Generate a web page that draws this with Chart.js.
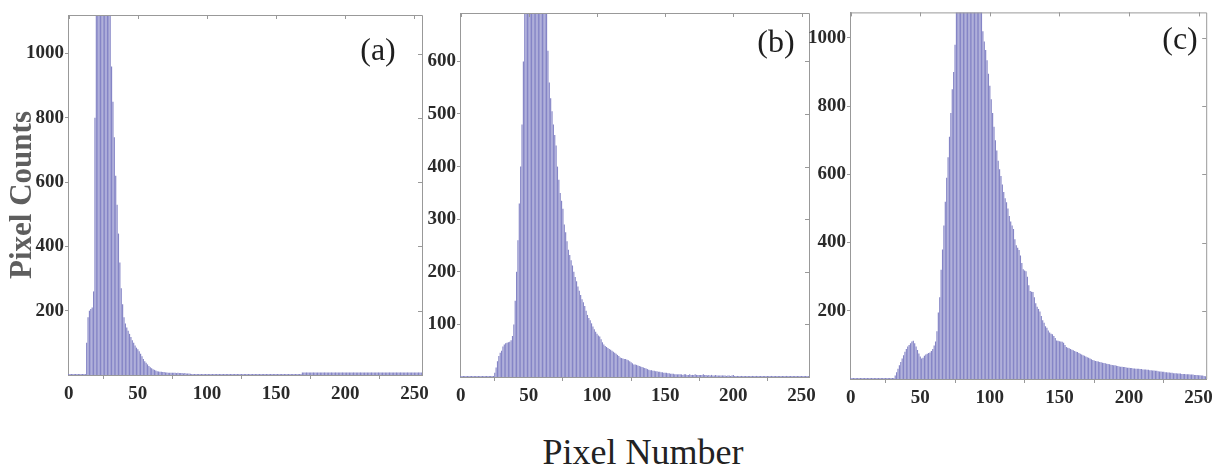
<!DOCTYPE html>
<html>
<head>
<meta charset="utf-8">
<script src="https://cdn.jsdelivr.net/npm/chart.js@4"></script>
<style>
  body { margin: 0; background: #fff; width: 1217px; height: 467px; overflow: hidden; position: relative; font-family: "Liberation Serif", "Times New Roman", serif; }
  canvas { position: absolute; top: 0; }
  .tag { position: absolute; font-size: 32px; color: #1e1e1e; transform: translate(-50%, -50%); white-space: nowrap; }
  #xlabel { position: absolute; left: 643px; top: 452px; font-size: 36px; color: #222; transform: translate(-50%, -50%); white-space: nowrap; }
</style>
</head>
<body>
<canvas id="histA" width="434" height="420" style="left:0px"></canvas>
<canvas id="histB" width="416" height="420" style="left:405px"></canvas>
<canvas id="histC" width="417" height="420" style="left:800px"></canvas>
<div class="tag" style="left:378px; top:49px">(a)</div>
<div class="tag" style="left:776px; top:41px">(b)</div>
<div class="tag" style="left:1180px; top:38px">(c)</div>
<div id="xlabel">Pixel Number</div>
<script>
// gray levels 0..255, one bin each
const pixelLevels = Array.from({ length: 256 }, (_, i) => i);

// histogram counts, 16 bins per row
const countsA = [
  0, 0, 0, 0, 0, 0, 0, 0, 0, 0, 0, 0, 0, 100, 180, 200,
  205, 210, 260, 800, 1200, 1300, 1450, 1600, 1750, 1800, 1720, 1580, 1450, 1330, 1200, 960,
  850, 740, 620, 530, 440, 350, 270, 220, 180, 160, 148, 138, 128, 118, 108, 100,
  92, 85, 80, 74, 66, 58, 50, 43, 38, 33, 28, 24, 21, 18, 16, 14,
  12, 11, 10, 10, 9, 9, 8, 8, 7, 7, 7, 7, 7, 7, 6, 7,
  6, 6, 6, 5, 6, 5, 5, 5, 4, 3, 0, 2, 0, 0, 3, 0,
  2, 0, 0, 3, 0, 2, 0, 0, 3, 0, 0, 2, 0, 3, 0, 0,
  2, 0, 3, 0, 0, 2, 0, 0, 3, 0, 2, 0, 0, 3, 0, 0,
  2, 0, 3, 0, 0, 2, 0, 3, 0, 0, 2, 0, 0, 3, 0, 2,
  0, 0, 3, 0, 2, 0, 0, 3, 0, 0, 2, 0, 3, 0, 0, 2,
  0, 3, 0, 0, 2, 0, 3, 0, 0, 8, 8, 8, 8, 8, 8, 8,
  8, 8, 8, 8, 8, 8, 8, 8, 8, 8, 8, 8, 8, 8, 8, 8,
  8, 8, 8, 8, 8, 8, 8, 8, 8, 8, 8, 8, 8, 8, 8, 8,
  8, 8, 8, 8, 8, 8, 8, 8, 8, 8, 8, 8, 8, 8, 8, 8,
  8, 8, 8, 8, 8, 8, 8, 8, 8, 8, 8, 8, 8, 8, 8, 8,
  8, 8, 8, 8, 8, 8, 8, 8, 8, 8, 8, 8, 8, 8, 8, 8
];

const countsB = [
  0, 0, 0, 0, 0, 0, 0, 0, 0, 0, 0, 0, 0, 0, 0, 0,
  0, 0, 0, 0, 0, 0, 0, 0, 0, 8, 18, 30, 40, 46, 50, 58,
  62, 64, 65, 66, 67, 70, 78, 100, 145, 200, 260, 330, 400, 480, 600, 720,
  790, 850, 900, 940, 960, 975, 980, 970, 955, 930, 900, 870, 840, 800, 760, 725,
  620, 560, 530, 505, 480, 460, 440, 400, 375, 350, 335, 320, 290, 275, 258, 242,
  232, 222, 212, 200, 190, 182, 172, 164, 156, 148, 142, 135, 126, 118, 112, 108,
  102, 96, 91, 86, 82, 79, 77, 72, 66, 62, 59, 57, 55, 53, 52, 50,
  48, 46, 44, 42, 40, 37, 36, 35, 34, 34, 33, 32, 30, 28, 26, 24,
  24, 23, 22, 21, 20, 19, 18, 17, 16, 15, 14, 13, 13, 12, 12, 11,
  11, 10, 10, 9, 9, 8, 8, 8, 7, 7, 6, 6, 6, 5, 5, 5,
  5, 5, 5, 4, 5, 5, 4, 4, 5, 4, 4, 4, 5, 4, 4, 4,
  4, 4, 5, 4, 4, 3, 4, 3, 4, 3, 3, 4, 3, 3, 3, 3,
  3, 3, 3, 2, 3, 3, 2, 3, 4, 2, 2, 2, 2, 2, 2, 2,
  2, 2, 2, 2, 2, 2, 2, 2, 2, 2, 2, 2, 2, 2, 2, 2,
  2, 2, 2, 1, 2, 2, 2, 1, 2, 2, 2, 2, 1, 2, 2, 2,
  2, 2, 2, 2, 1, 2, 2, 2, 2, 2, 1, 2, 2, 2, 2, 2
];

const countsC = [
  0, 0, 0, 0, 0, 0, 0, 0, 0, 0, 0, 0, 0, 0, 0, 0,
  0, 0, 0, 0, 0, 0, 0, 0, 0, 0, 0, 0, 0, 0, 0, 0,
  10, 20, 30, 40, 50, 60, 70, 80, 88, 95, 100, 105, 110, 112, 105, 95,
  85, 75, 66, 60, 62, 68, 72, 74, 76, 78, 82, 88, 98, 110, 140, 195,
  240, 320, 380, 450, 520, 590, 650, 710, 780, 850, 900, 980, 1090, 1150, 1200, 1250,
  1290, 1320, 1340, 1350, 1345, 1330, 1310, 1290, 1260, 1230, 1200, 1170, 1140, 1110, 1085, 1020,
  990, 965, 935, 895, 860, 820, 780, 740, 700, 670, 640, 615, 595, 570, 548, 530,
  518, 500, 478, 462, 450, 440, 410, 392, 385, 378, 362, 340, 322, 318, 316, 300,
  275, 258, 256, 255, 240, 222, 212, 205, 198, 185, 172, 165, 155, 150, 142, 136,
  133, 131, 126, 120, 113, 112, 111, 110, 109, 106, 100, 94, 92, 90, 88, 86,
  84, 82, 80, 79, 76, 74, 72, 70, 68, 66, 64, 62, 60, 58, 56, 54,
  53, 52, 51, 50, 49, 48, 47, 46, 45, 44, 43, 42, 41, 40, 40, 39,
  38, 37, 36, 36, 35, 35, 34, 33, 33, 32, 32, 31, 31, 30, 30, 30,
  29, 29, 28, 28, 28, 27, 27, 26, 26, 25, 25, 24, 24, 23, 22, 22,
  21, 21, 20, 20, 19, 19, 18, 18, 17, 17, 17, 16, 16, 16, 15, 15,
  15, 14, 14, 14, 13, 13, 13, 12, 12, 12, 11, 11, 10, 10, 9, 8
];

// y limits and tick values per panel
const yMaxes = [1120, 692, 1075];
const yTicksA = [200, 400, 600, 800, 1000];
const yTicksB = [100, 200, 300, 400, 500, 600];
const yTicksC = [200, 400, 600, 800, 1000];
const xTickLabels = [0, 50, 100, 150, 200, 250];

const barColor = '#8585c6';
const frameColor = '#999';
const tickFont = { family: '"Liberation Serif", serif', weight: 'bold', size: 19 };

// box around the plot plus short inward ticks on the top and right edges
const frameBox = {
  id: 'frameBox',
  afterDraw(chart) {
    const { ctx, chartArea: a, scales: { x, y } } = chart;
    ctx.save();
    ctx.strokeStyle = frameColor;
    ctx.lineWidth = 1;
    ctx.beginPath();
    ctx.moveTo(a.left, a.top + 0.5);
    ctx.lineTo(a.right + 0.5, a.top + 0.5);
    ctx.lineTo(a.right + 0.5, a.bottom);
    x.ticks.forEach((t, i) => {
      if (t.label == null || t.label === '') return;
      const px = Math.round(x.getPixelForTick(i)) + 0.5;
      ctx.moveTo(px, a.top);
      ctx.lineTo(px, a.top + 4);
    });
    y.ticks.forEach((t, i) => {
      const py = Math.round(y.getPixelForTick(i)) + 0.5;
      ctx.moveTo(a.right, py);
      ctx.lineTo(a.right - 4, py);
    });
    ctx.stroke();
    ctx.restore();
  }
};

function makeHist(id, counts, yMax, yTicks, box, yTitle) {
  const canvas = document.getElementById(id);
  const axisW = box.left - box.canvasLeft;
  const padRight = canvas.width - (box.right - box.canvasLeft);
  new Chart(canvas, {
    type: 'bar',
    data: {
      labels: pixelLevels,
      datasets: [{
        data: counts,
        backgroundColor: barColor,
        barPercentage: 0.85,
        categoryPercentage: 1,
        minBarLength: 1
      }]
    },
    options: {
      responsive: false,
      animation: false,
      layout: { padding: { top: box.top, right: padRight, left: 0, bottom: 0 } },
      plugins: { legend: { display: false }, tooltip: { enabled: false } },
      scales: {
        x: {
          grid: { drawOnChartArea: false, tickLength: 4, color: frameColor },
          border: { color: frameColor },
          ticks: {
            autoSkip: false, maxRotation: 0, padding: 4,
            font: tickFont, color: '#2a2a2a',
            callback: (v, i) => (xTickLabels.includes(pixelLevels[i]) ? String(pixelLevels[i]) : null)
          },
          afterFit: s => { s.height = 420 - box.bottom; }
        },
        y: {
          min: 0,
          max: yMax,
          grid: { drawOnChartArea: false, tickLength: 3, color: frameColor },
          border: { color: frameColor },
          ticks: {
            padding: 1,
            font: tickFont, color: '#2a2a2a',
            callback: v => String(v)
          },
          afterBuildTicks: s => { s.ticks = yTicks.map(v => ({ value: v })); },
          title: yTitle ? {
            display: true, text: yTitle, color: '#5e5e5e',
            font: { family: '"Liberation Serif", serif', weight: 'bold', size: 31 },
            padding: { top: 4, bottom: 0 }
          } : { display: false },
          afterFit: s => { s.width = axisW; }
        }
      }
    },
    plugins: [frameBox]
  });
}

makeHist('histA', countsA, yMaxes[0], yTicksA, { canvasLeft: 0, left: 68, right: 422, top: 15, bottom: 375 }, 'Pixel Counts');
makeHist('histB', countsB, yMaxes[1], yTicksB, { canvasLeft: 405, left: 460, right: 809, top: 13, bottom: 377 });
makeHist('histC', countsC, yMaxes[2], yTicksC, { canvasLeft: 800, left: 850, right: 1207, top: 11, bottom: 379 });
</script>
</body>
</html>
